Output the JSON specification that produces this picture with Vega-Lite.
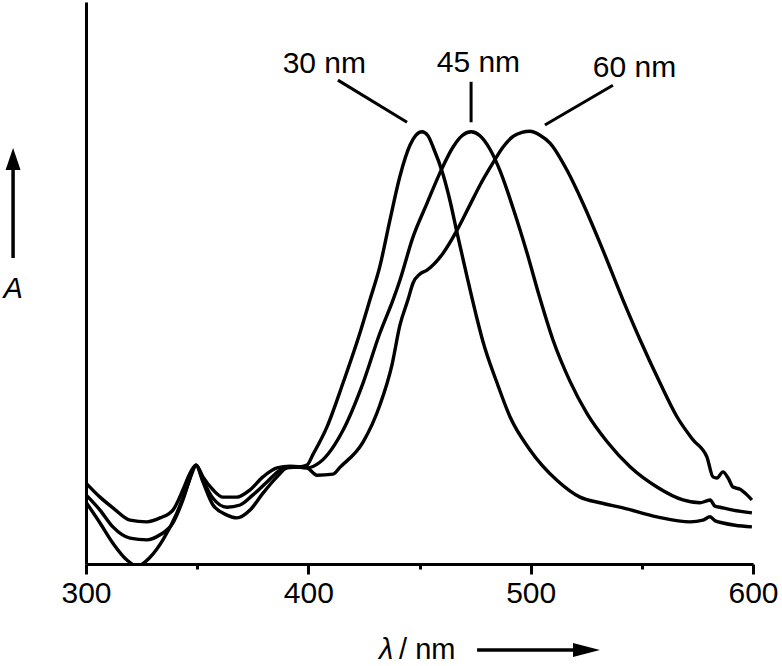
{
  "$schema": "https://vega.github.io/schema/vega-lite/v6.json",
  "width": 667,
  "height": 562,
  "autosize": "none",
  "padding": {"left": 86, "top": 2, "right": 29, "bottom": 102},
  "background": "white",
  "config": {"view": {"stroke": null}},
  "encoding": {
    "x": {"field": "x", "type": "quantitative",
      "scale": {"domain": [300, 600], "nice": false, "zero": false},
      "axis": {"values": [300, 350, 400, 450, 500, 550, 600],
        "labelExpr": "datum.value % 100 === 0 ? datum.label : ''",
        "tickSize": {"condition": {"test": "datum.value % 100 === 0", "value": 10}, "value": 5},
        "tickWidth": 3, "domainWidth": 3, "domainColor": "#000", "tickColor": "#000",
        "labelFont": "Liberation Sans", "labelFontSize": 30, "labelColor": "#000",
        "labelPadding": 4, "grid": false, "title": null, "labelFlush": false}},
    "y": {"field": "y", "type": "quantitative",
      "scale": {"domain": [0, 1], "nice": false, "zero": false},
      "axis": {"ticks": false, "labels": false, "title": null, "grid": false,
        "domainWidth": 3, "domainColor": "#000"}}
  },
  "layer": [
    {
      "data": {"values": [
        {"s":"60","x":300,"y":0.144},{"s":"60","x":306.3,"y":0.119},{"s":"60","x":312.1,"y":0.100},{"s":"60","x":319.8,"y":0.078},{"s":"60","x":327.4,"y":0.075},{"s":"60","x":333.3,"y":0.082},{"s":"60","x":339.1,"y":0.096},{"s":"60","x":343.6,"y":0.132},{"s":"60","x":346.8,"y":0.162},{"s":"60","x":349.5,"y":0.176},{"s":"60","x":352.6,"y":0.155},{"s":"60","x":357.1,"y":0.132},{"s":"60","x":361.6,"y":0.119},{"s":"60","x":367.9,"y":0.119},{"s":"60","x":373.8,"y":0.132},{"s":"60","x":379.6,"y":0.155},{"s":"60","x":385.9,"y":0.171},{"s":"60","x":391.8,"y":0.174},{"s":"60","x":399.4,"y":0.171},{"s":"60","x":403.9,"y":0.158},{"s":"60","x":411.1,"y":0.160},{"s":"60","x":414.2,"y":0.172},{"s":"60","x":424.6,"y":0.217},{"s":"60","x":432.2,"y":0.283},{"s":"60","x":437.6,"y":0.354},{"s":"60","x":441.2,"y":0.425},{"s":"60","x":444.8,"y":0.470},{"s":"60","x":447.1,"y":0.500},{"s":"60","x":450.2,"y":0.516},{"s":"60","x":453.4,"y":0.523},{"s":"60","x":460.6,"y":0.553},{"s":"60","x":466.9,"y":0.594},{"s":"60","x":472.7,"y":0.639},{"s":"60","x":477.2,"y":0.674},{"s":"60","x":483.1,"y":0.714},{"s":"60","x":487.6,"y":0.742},{"s":"60","x":492.1,"y":0.761},{"s":"60","x":496.1,"y":0.768},{"s":"60","x":499.7,"y":0.770},{"s":"60","x":504.2,"y":0.763},{"s":"60","x":508.7,"y":0.749},{"s":"60","x":516.3,"y":0.701},{"s":"60","x":523.5,"y":0.642},{"s":"60","x":531.2,"y":0.571},{"s":"60","x":541.5,"y":0.470},{"s":"60","x":549.2,"y":0.399},{"s":"60","x":558.2,"y":0.322},{"s":"60","x":565.8,"y":0.262},{"s":"60","x":573.0,"y":0.221},{"s":"60","x":579.3,"y":0.190},{"s":"60","x":582.0,"y":0.155},{"s":"60","x":583.8,"y":0.153},{"s":"60","x":586.5,"y":0.164},{"s":"60","x":588.8,"y":0.153},{"s":"60","x":591.0,"y":0.137},{"s":"60","x":594.2,"y":0.133},{"s":"60","x":597.3,"y":0.123},{"s":"60","x":599.5,"y":0.114},
        {"s":"45","x":300,"y":0.123},{"s":"45","x":306.3,"y":0.096},{"s":"45","x":312.1,"y":0.066},{"s":"45","x":319.8,"y":0.046},{"s":"45","x":327.4,"y":0.043},{"s":"45","x":333.3,"y":0.052},{"s":"45","x":339.1,"y":0.073},{"s":"45","x":343.6,"y":0.114},{"s":"45","x":347.7,"y":0.162},{"s":"45","x":349.5,"y":0.176},{"s":"45","x":352.6,"y":0.149},{"s":"45","x":357.1,"y":0.117},{"s":"45","x":363.4,"y":0.101},{"s":"45","x":369.3,"y":0.105},{"s":"45","x":375.1,"y":0.123},{"s":"45","x":381.4,"y":0.146},{"s":"45","x":387.3,"y":0.167},{"s":"45","x":393.1,"y":0.173},{"s":"45","x":399.4,"y":0.171},{"s":"45","x":405.2,"y":0.181},{"s":"45","x":415.6,"y":0.238},{"s":"45","x":424.6,"y":0.322},{"s":"45","x":432.2,"y":0.411},{"s":"45","x":438.1,"y":0.470},{"s":"45","x":441.2,"y":0.505},{"s":"45","x":447.1,"y":0.582},{"s":"45","x":453.4,"y":0.642},{"s":"45","x":459.2,"y":0.696},{"s":"45","x":465.1,"y":0.742},{"s":"45","x":469.1,"y":0.762},{"s":"45","x":473.2,"y":0.769},{"s":"45","x":477.2,"y":0.762},{"s":"45","x":481.7,"y":0.738},{"s":"45","x":486.2,"y":0.700},{"s":"45","x":492.1,"y":0.633},{"s":"45","x":498.4,"y":0.553},{"s":"45","x":504.0,"y":0.475},{"s":"45","x":510.0,"y":0.399},{"s":"45","x":517.7,"y":0.325},{"s":"45","x":525.3,"y":0.268},{"s":"45","x":534.3,"y":0.218},{"s":"45","x":544.7,"y":0.173},{"s":"45","x":556.8,"y":0.137},{"s":"45","x":568.5,"y":0.114},{"s":"45","x":576.2,"y":0.109},{"s":"45","x":578.9,"y":0.112},{"s":"45","x":580.7,"y":0.114},{"s":"45","x":582.9,"y":0.103},{"s":"45","x":585.2,"y":0.101},{"s":"45","x":591.0,"y":0.096},{"s":"45","x":599.5,"y":0.091},
        {"s":"30","x":300,"y":0.110},{"s":"30","x":306.3,"y":0.073},{"s":"30","x":312.1,"y":0.037},{"s":"30","x":318.4,"y":0.007},{"s":"30","x":322.9,"y":-0.004},{"s":"30","x":328.8,"y":0.012},{"s":"30","x":334.6,"y":0.043},{"s":"30","x":340.9,"y":0.091},{"s":"30","x":345.4,"y":0.137},{"s":"30","x":349.5,"y":0.176},{"s":"30","x":352.6,"y":0.146},{"s":"30","x":357.1,"y":0.105},{"s":"30","x":363.4,"y":0.087},{"s":"30","x":367.9,"y":0.082},{"s":"30","x":373.8,"y":0.096},{"s":"30","x":379.6,"y":0.126},{"s":"30","x":385.9,"y":0.155},{"s":"30","x":390.4,"y":0.171},{"s":"30","x":396.3,"y":0.173},{"s":"30","x":399.4,"y":0.176},{"s":"30","x":402.1,"y":0.195},{"s":"30","x":408.4,"y":0.244},{"s":"30","x":415.6,"y":0.322},{"s":"30","x":423.2,"y":0.411},{"s":"30","x":427.7,"y":0.470},{"s":"30","x":432.2,"y":0.530},{"s":"30","x":436.7,"y":0.612},{"s":"30","x":441.2,"y":0.690},{"s":"30","x":445.7,"y":0.745},{"s":"30","x":448.4,"y":0.763},{"s":"30","x":451.1,"y":0.769},{"s":"30","x":453.8,"y":0.762},{"s":"30","x":456.1,"y":0.742},{"s":"30","x":460.6,"y":0.693},{"s":"30","x":463.8,"y":0.645},{"s":"30","x":466.9,"y":0.589},{"s":"30","x":471.4,"y":0.511},{"s":"30","x":475.9,"y":0.436},{"s":"30","x":478.6,"y":0.395},{"s":"30","x":484.9,"y":0.322},{"s":"30","x":490.7,"y":0.262},{"s":"30","x":499.7,"y":0.203},{"s":"30","x":511.8,"y":0.149},{"s":"30","x":522.2,"y":0.119},{"s":"30","x":531.2,"y":0.109},{"s":"30","x":541.5,"y":0.100},{"s":"30","x":556.8,"y":0.084},{"s":"30","x":571.7,"y":0.075},{"s":"30","x":577.5,"y":0.078},{"s":"30","x":580.7,"y":0.084},{"s":"30","x":582.9,"y":0.077},{"s":"30","x":586.5,"y":0.073},{"s":"30","x":591.9,"y":0.069},{"s":"30","x":599.5,"y":0.066}
      ]},
      "mark": {"type": "line", "color": "#000", "strokeWidth": 3.4, "interpolate": "monotone", "clip": true},
      "encoding": {"detail": {"field": "s", "type": "nominal"}}
    },
    {
      "data": {"values": [
        {"x": 413.3, "y": 0.861, "x2": 444.4, "y2": 0.786},
        {"x": 473.2, "y": 0.858, "x2": 473.2, "y2": 0.786},
        {"x": 537.0, "y": 0.852, "x2": 506.4, "y2": 0.781}
      ]},
      "mark": {"type": "rule", "color": "#000", "strokeWidth": 3},
      "encoding": {"x2": {"field": "x2"}, "y2": {"field": "y2"}}
    },
    {
      "data": {"values": [
        {"x": 407.2, "y": 0.874, "t": "30 nm"},
        {"x": 476.5, "y": 0.875, "t": "45 nm"},
        {"x": 546.7, "y": 0.866, "t": "60 nm"}
      ]},
      "mark": {"type": "text", "font": "Liberation Sans", "fontSize": 30, "color": "#000", "align": "center", "baseline": "alphabetic"},
      "encoding": {"text": {"field": "t"}}
    },
    {
      "data": {"values": [
        {"x": 267.2, "y": 0.5445, "x2": 267.2, "y2": 0.712},
        {"x": 475.9, "y": -0.153, "x2": 521.0, "y2": -0.153}
      ]},
      "mark": {"type": "rule", "color": "#000", "strokeWidth": 3.5},
      "encoding": {"x2": {"field": "x2"}, "y2": {"field": "y2"}}
    },
    {
      "data": {"values": [{"x": 267.2, "y": 0.7206}]},
      "mark": {"type": "point", "shape": "M0,-1L0.68,1L-0.68,1Z", "size": 484, "filled": true, "color": "#000", "opacity": 1, "strokeWidth": 0}
    },
    {
      "data": {"values": [{"x": 525.1, "y": -0.153}]},
      "mark": {"type": "point", "shape": "M1,0L-1,-0.52L-1,0.52Z", "size": 729, "filled": true, "color": "#000", "opacity": 1, "strokeWidth": 0}
    },
    {
      "data": {"values": [{"x": 267.2, "y": 0.4733, "t": "A"}, {"x": 435.0, "y": -0.169, "t": "λ"}]},
      "mark": {"type": "text", "font": "Liberation Sans", "fontSize": 29, "fontStyle": "italic", "color": "#000", "align": "center", "baseline": "alphabetic"},
      "encoding": {"text": {"field": "t"}}
    },
    {
      "data": {"values": [{"x": 440.8, "y": -0.169, "t": "/ nm"}]},
      "mark": {"type": "text", "font": "Liberation Sans", "fontSize": 29, "color": "#000", "align": "left", "baseline": "alphabetic"},
      "encoding": {"text": {"field": "t"}}
    }
  ]
}
